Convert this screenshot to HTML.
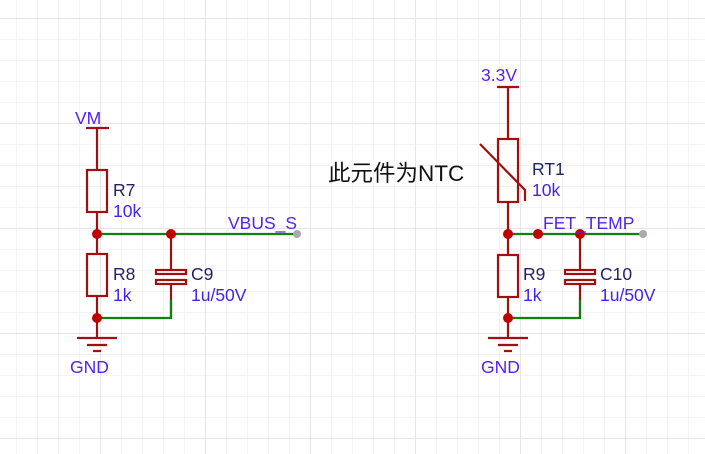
<!DOCTYPE html>
<html><head><meta charset="utf-8"><style>
html,body{margin:0;padding:0;background:#fff;}
svg{display:block;}
text{font-family:"Liberation Sans","Noto Sans CJK SC",sans-serif;}
</style></head><body>
<svg width="705" height="454" xmlns="http://www.w3.org/2000/svg">
<defs>
<pattern id="fg" width="21" height="21" patternUnits="userSpaceOnUse" x="16" y="18">
<path d="M0 0.5H21M0.5 0V21" stroke="#f3f3f3" stroke-width="1" fill="none"/>
</pattern>
<pattern id="mg" width="105" height="105" patternUnits="userSpaceOnUse" x="100" y="18">
<path d="M0 0.5H105M0.5 0V105" stroke="#e6e6e6" stroke-width="1" fill="none"/>
</pattern>
</defs>
<rect width="705" height="454" fill="url(#fg)"/>
<rect width="705" height="454" fill="url(#mg)"/>

<g stroke="#a01010" stroke-width="2.2" fill="none">
<line x1="86" y1="128" x2="109" y2="128"/>
<line x1="97" y1="128" x2="97" y2="170"/>
<rect x="87" y="170" width="20" height="42"/>
<line x1="97" y1="212" x2="97" y2="254"/>
<rect x="87" y="254" width="20" height="42"/>
<line x1="97" y1="296" x2="97" y2="338"/>
<line x1="77" y1="338" x2="117" y2="338"/>
<line x1="87" y1="345" x2="107" y2="345"/>
<line x1="93" y1="351" x2="101" y2="351"/>
<line x1="171" y1="234" x2="171" y2="270"/>
<rect x="156" y="270" width="30" height="4"/>
<rect x="156" y="280" width="30" height="4"/>
<line x1="171" y1="284" x2="171" y2="318"/>
<line x1="497" y1="87" x2="519" y2="87"/>
<line x1="508" y1="87" x2="508" y2="139"/>
<rect x="498" y="139" width="20" height="63"/>
<polyline points="480,144 525,190 525,201"/>
<line x1="508" y1="202" x2="508" y2="255"/>
<rect x="498" y="255" width="20" height="42"/>
<line x1="508" y1="297" x2="508" y2="338"/>
<line x1="488" y1="338" x2="528" y2="338"/>
<line x1="498" y1="345" x2="518" y2="345"/>
<line x1="504" y1="351" x2="512" y2="351"/>
<line x1="580" y1="234" x2="580" y2="270"/>
<rect x="565" y="270" width="30" height="4"/>
<rect x="565" y="280" width="30" height="4"/>
<line x1="580" y1="284" x2="580" y2="318"/>
</g>
<g stroke="#108010" stroke-width="2.2" fill="none">
<line x1="97" y1="234" x2="296" y2="234"/>
<polyline points="97,318 171,318 171,300"/>
<line x1="508" y1="234" x2="642" y2="234"/>
<polyline points="508,318 580,318 580,300"/>
</g>
<g fill="#c00000">
<circle cx="97" cy="234" r="5"/><circle cx="171" cy="234" r="5"/><circle cx="97" cy="318" r="5"/>
<circle cx="508" cy="234" r="5"/><circle cx="538" cy="234" r="5"/><circle cx="580" cy="234" r="5"/><circle cx="508" cy="318" r="5"/>
</g>
<circle cx="297" cy="234" r="4" fill="#aaa"/>
<circle cx="643" cy="234" r="4" fill="#aaa"/>

<g font-size="17.5" fill="#5522ee">
<text x="75" y="124">VM</text>
<text x="481" y="81">3.3V</text>
<text x="70" y="373">GND</text>
<text x="481" y="373">GND</text>
<text x="228" y="229">VBUS_S</text>
<text x="543" y="229">FET_TEMP</text>
</g>
<g font-size="17.5">
<text x="113" y="196" fill="#222266">R7</text><text x="113" y="217" fill="#4422ee">10k</text>
<text x="113" y="280" fill="#222266">R8</text><text x="113" y="301" fill="#4422ee">1k</text>
<text x="191" y="280" fill="#222266">C9</text><text x="191" y="301" fill="#4422ee">1u/50V</text>
<text x="532" y="175" fill="#222266">RT1</text><text x="532" y="196" fill="#4422ee">10k</text>
<text x="523" y="280" fill="#222266">R9</text><text x="523" y="301" fill="#4422ee">1k</text>
<text x="600" y="280" fill="#222266">C10</text><text x="600" y="301" fill="#4422ee">1u/50V</text>
</g>
<text x="328" y="181" font-size="22.5" fill="#111">此元件为NTC</text>
</svg>
</body></html>
